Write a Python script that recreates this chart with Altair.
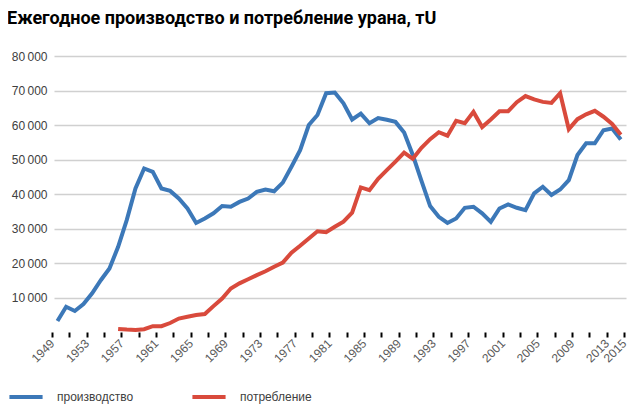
import pandas as pd
import altair as alt

# production, tU, 1949-2014
prod_years = list(range(1949, 2015))
production = [
    3200, 7300, 6100, 8100, 11200, 15000, 18400, 24700, 32500, 41600,
    47400, 46400, 41600, 40900, 38700, 35800, 31600, 32900, 34400, 36500,
    36300, 37700, 38700, 40600, 41300, 40800, 43300, 47900, 52700, 60000,
    62900, 69200, 69400, 66300, 61600, 63300, 60500, 62000, 61500, 60900,
    57800, 51300, 43800, 36500, 33400, 31600, 32900, 36000, 36300, 34400,
    31900, 35800, 37000, 36000, 35300, 40200, 42100, 39700, 41300, 44000,
    51300, 54700, 54700, 58500, 59000, 55800,
]

# consumption, tU, 1956-2014
cons_years = list(range(1956, 2015))
consumption = [
    900, 700, 600, 800, 1700, 1700, 2600, 3900, 4400, 4900,
    5200, 7500, 9700, 12600, 14100, 15300, 16500, 17600, 18900, 20100,
    23000, 25000, 27100, 29200, 28900, 30500, 32000, 34600, 41900, 41100,
    44400, 46900, 49400, 52000, 50200, 53400, 55900, 57900, 56900, 61200,
    60500, 63800, 59400, 61600, 64000, 64000, 66600, 68400, 67400, 66700,
    66400, 69200, 58800, 61700, 63100, 64100, 62400, 60300, 57200,
]

series = ["производство", "потребление"]
colors = ["#3c78b8", "#d94a3c"]

y_ticks = [10000, 20000, 30000, 40000, 50000, 60000, 70000, 80000]
x_ticks = list(range(1949, 2016, 2))
x_labels = [1949, 1953, 1957, 1961, 1965, 1969, 1973, 1977, 1981, 1985,
            1989, 1993, 1997, 2001, 2005, 2009, 2013, 2015]

df = pd.concat([
    pd.DataFrame({"year": prod_years, "value": production, "series": series[0]}),
    pd.DataFrame({"year": cons_years, "value": consumption, "series": series[1]}),
])

label_test = " || ".join(f"datum.value == {y}" for y in x_labels)

chart = alt.Chart(df).mark_line(strokeWidth=4, strokeJoin="miter").transform_calculate(
    xpos="datum.year + 0.4"
).encode(
    x=alt.X(
        "xpos:Q",
        title=None,
        scale=alt.Scale(domain=[1949, 2015], nice=False, zero=False),
        axis=alt.Axis(
            values=x_ticks,
            labelExpr=f"({label_test}) ? datum.value : ''",
            labelAngle=-45,
            labelAlign="right",
            labelBaseline="middle",
            labelPadding=4,
            labelFontSize=12,
            labelColor="#595959",
            labelFont="Liberation Sans",
            labelOverlap=False,
            labelFlush=False,
            domain=False,
            grid=False,
            tickColor="#000000",
            tickWidth=2,
            tickSize=5,
            tickOffset=-2,
        ),
    ),
    y=alt.Y(
        "value:Q",
        title=None,
        scale=alt.Scale(domain=[0, 80000], nice=False),
        axis=alt.Axis(
            values=y_ticks,
            labelExpr="replace(format(datum.value, ','), ',', '\u2009')",
            labelFontSize=12,
            labelColor="#404040",
            labelFont="Liberation Sans",
            labelPadding=7,
            domain=False,
            ticks=False,
            gridColor="#d0d0d0",
            gridWidth=1.5,
        ),
    ),
    color=alt.Color(
        "series:N",
        scale=alt.Scale(domain=series, range=colors),
        sort=series,
        legend=alt.Legend(
            title=None,
            orient="none",
            legendX=-47,
            legendY=322,
            direction="horizontal",
            symbolType="stroke",
            symbolSize=1100,
            symbolStrokeWidth=4,
            labelFontSize=12,
            labelFont="Liberation Sans",
            labelColor="#404040",
            columnPadding=50,
            labelOffset=12,
        ),
    ),
).properties(
    width=572,
    height=276,
    padding={"left": 46, "top": 48, "right": 4, "bottom": 75},
    autosize=alt.AutoSizeParams(type="none"),
    title=alt.TitleParams(
        "Ежегодное производство и потребление урана, тU",
        anchor="start",
        frame="group",
        dx=-47,
        offset=22,
        fontSize=18,
        fontWeight="bold",
        font="Roboto",
        color="#000000",
    ),
).configure_view(stroke=None)

chart.save("out.html", embed_options={"renderer": "svg", "actions": False})
